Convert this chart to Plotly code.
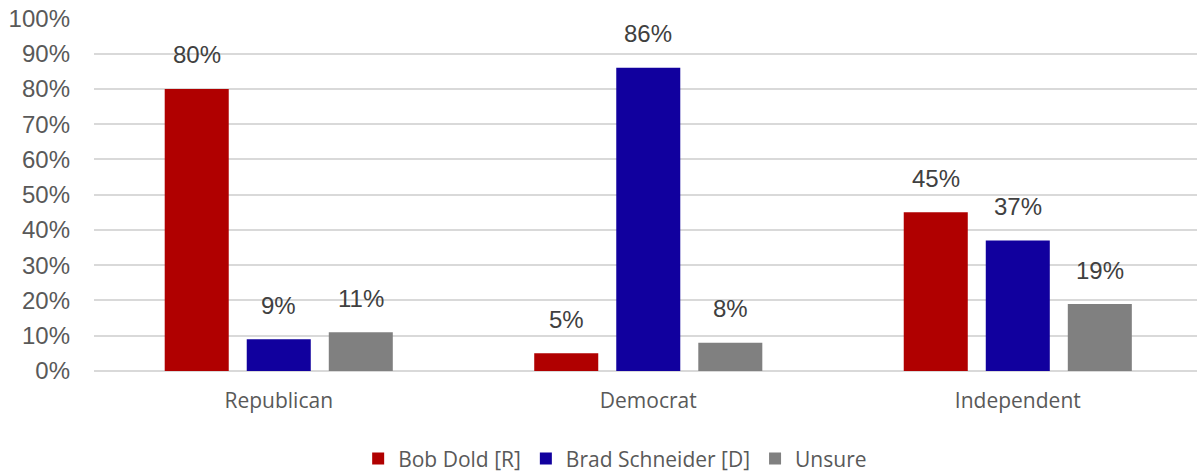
import plotly.graph_objects as go

categories = ["Republican", "Democrat", "Independent"]
series_names = ["Bob Dold [R]", "Brad Schneider [D]", "Unsure"]
dold = [80, 5, 45]
schneider = [9, 86, 37]
unsure = [11, 8, 19]
colors = ["#B00000", "#11009E", "#808080"]

values = [dold, schneider, unsure]

fig = go.Figure()
for name, vals, col in zip(series_names, values, colors):
    fig.add_trace(go.Bar(x=categories, y=vals, name=name, marker_color=col,
                         marker_line_width=0))

annotations = []
for i, vals in enumerate(values):
    for cat, v in zip(categories, vals):
        annotations.append(dict(x=cat, y=v, xref="x", yref="y", text=f"{v}%",
                                showarrow=False, xshift=(i - 1) * 82, yshift=34,
                                yanchor="middle",
                                font=dict(family="Liberation Sans, Arial", size=24, color="#404040")))

fig.update_layout(
    width=1197, height=472,
    margin=dict(l=94, r=0, t=18, b=101, autoexpand=False),
    paper_bgcolor="white", plot_bgcolor="white",
    barmode="group", bargap=0.334, bargroupgap=0.2195,
    showlegend=True,
    legend=dict(orientation="h", x=0.4725, xanchor="center", y=-0.249, yanchor="middle",
                font=dict(family="Open Sans", size=21, color="#595959"),
                traceorder="normal", itemwidth=30),
    annotations=annotations,
    xaxis=dict(range=[-0.5, 2.485], showgrid=False, showline=False, ticks="",
               ticklabelstandoff=15,
               tickfont=dict(family="Open Sans", size=21, color="#595959")),
    yaxis=dict(range=[0, 100.1], tickmode="array", tickvals=list(range(0, 101, 10)),
               ticktext=[f"{t}%" for t in range(0, 101, 10)],
               ticklabeloverflow="allow",
               showgrid=True, gridcolor="#D9D9D9", gridwidth=1.5,
               zeroline=True, zerolinecolor="#D9D9D9", zerolinewidth=1.5,
               showline=False, ticks="", ticklabelstandoff=23,
               tickfont=dict(family="Liberation Sans, Arial", size=24, color="#595959")),
)

fig.write_html("out.html", config={"displayModeBar": False},
               post_script="document.body.style.margin='0';")
